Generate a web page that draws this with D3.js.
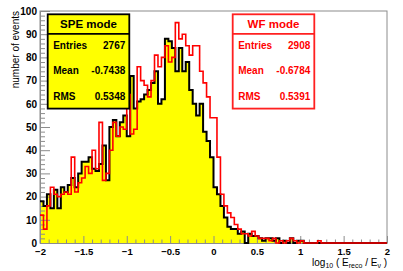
<!DOCTYPE html>
<html>
<head>
<meta charset="utf-8">
<script src="https://cdn.jsdelivr.net/npm/d3@7"></script>
<style>
    body { margin: 0; background: #fff; }
    svg text { font-family: "Liberation Sans", Arial, sans-serif; }
</style>
</head>
<body>
<div id="chart"></div>
<script>
//Datos: 100 bins entre -2 y 2
const spe = [18,16,21,15,23,15,24,22,25,28, 24,30,35,35,37,32,31,34,42,27,
    50,53,46,52,55,46,72,58,61,62, 64,66,69,74,60,62,88,87,84,74,
    84,74,78,66,60,55,60,48,44,37, 24,21,16,11,7,6,6,4,5,0,
    4,3,3,2,1,2,2,1,2,0, 1,0,2,0,1,1,0,0,0,0,
    0,0,0,0,0,0,0,0,0,0, 0,0,0,0,0,0,0,0,0,0];
const wf = [12,6,16,24,21,20,21,22,21,37, 22,26,28,33,30,40,32,52,27,30,
    40,52,46,50,49,64,47,49,76,70, 68,63,70,81,76,80,85,78,80,95,
    88,90,85,81,85,85,74,69,63,54, 54,37,21,16,13,11,8,6,4,4,
    3,5,3,2,2,2,1,2,0,1, 0,1,2,1,0,1,0,0,0,0,
    1,0,0,0,0,0,0,0,0,0, 0,0,0,0,0,0,0,0,0,0];
const xTicks = [-2, -1.5, -1, -0.5, 0, 0.5, 1, 1.5, 2];
const yTicks = [0, 10, 20, 30, 40, 50, 60, 70, 80, 90, 100];
const statNames = ['Entries', 'Mean', 'RMS'];
const speStats = ['2767', '-0.7438', '0.5348'];
const wfStats = ['2908', '-0.6784', '0.5391'];

const W = 403, H = 271;
const margin = {top: 11, right: 16, bottom: 28, left: 40};
const width = W - margin.left - margin.right,
    height = H - margin.top - margin.bottom;

let svg = d3.select('#chart').append('svg')
    .attr('width', W).attr('height', H);
let g = svg.append('g')
    .attr('transform', 'translate(' + margin.left + ',' + margin.top + ')');

let x = d3.scaleLinear().domain([-2, 2]).range([0, width]);
let y = d3.scaleLinear().domain([0, 100]).range([height, 0]);

let edges = d3.range(101).map(function(i) { return -2 + i * 0.04; });
function steps(vals) {
    let pts = vals.map(function(v, i) { return [edges[i], v]; });
    pts.push([edges[100], vals[vals.length - 1]]);
    return pts;
}

//Marco
g.append('rect')
    .attr('x', 0).attr('y', 0).attr('width', width).attr('height', height)
    .attr('fill', 'none').attr('stroke', '#8c8c8c').attr('stroke-width', 1);

//Relleno SPE
let area = d3.area().curve(d3.curveStepAfter)
    .x(function(d) { return x(d[0]); })
    .y0(y(0))
    .y1(function(d) { return y(d[1]); });
g.append('path').datum(steps(spe)).attr('d', area).attr('fill', '#ffff00');

//Ejes
let minorY = d3.range(0, 101, 2).filter(function(d) { return d % 10 != 0; });
let minorX = d3.range(-20, 21, 1).map(function(d) { return d / 10; })
    .filter(function(d) { return Math.abs(d * 2 - Math.round(d * 2)) > 1e-6; });

g.append('g').call(d3.axisLeft(y).tickValues(minorY).tickSize(-5).tickFormat(''))
    .call(function(a) { a.select('.domain').remove(); });
g.append('g').attr('transform', 'translate(0,' + height + ')')
    .call(d3.axisBottom(x).tickValues(minorX).tickSize(-3.5).tickFormat(''))
    .call(function(a) { a.select('.domain').remove(); });

g.append('g').attr('class', 'yaxis')
    .call(d3.axisLeft(y).tickValues(yTicks).tickSizeInner(-10).tickSizeOuter(0).tickPadding(3))
    .call(function(a) { a.select('.domain').attr('stroke', '#8c8c8c'); });
g.append('g').attr('class', 'xaxis').attr('transform', 'translate(0,' + height + ')')
    .call(d3.axisBottom(x).tickValues(xTicks).tickSizeInner(-7).tickSizeOuter(0).tickPadding(5)
        .tickFormat(function(d) { return d3.format('')(d); }))
    .call(function(a) { a.select('.domain').attr('stroke', '#8c8c8c'); });

g.selectAll('.tick line').attr('stroke', '#8c8c8c');
g.selectAll('.tick text').attr('fill', '#000').attr('font-size', '10px').attr('font-weight', 'bold')
    .style('font-family', '"Liberation Sans", Arial, sans-serif');
g.selectAll('.xaxis .tick text').attr('font-size', '9.5px');

//Lineas de los histogramas
let line = d3.line().curve(d3.curveStepAfter)
    .x(function(d) { return x(d[0]); })
    .y(function(d) { return y(d[1]); });
g.append('path').datum(steps(spe)).attr('d', line)
    .attr('fill', 'none').attr('stroke', '#000').attr('stroke-width', 2);
g.append('path').datum(steps(wf)).attr('d', line)
    .attr('fill', 'none').attr('stroke', '#ff0000').attr('stroke-width', 1.6);

//Titulos
svg.append('text')
    .attr('transform', 'translate(18.5,' + margin.top + ') rotate(-90)')
    .attr('text-anchor', 'end').attr('font-size', '10px')
    .text('number of events');

let xt = svg.append('text')
    .attr('x', margin.left + width).attr('y', 266)
    .attr('text-anchor', 'end').attr('font-size', '10px');
xt.append('tspan').text('log');
xt.append('tspan').attr('font-size', '7px').attr('dy', 2).text('10');
xt.append('tspan').attr('dy', -2).text(' ( E');
xt.append('tspan').attr('font-size', '7px').attr('dy', 2).text('reco');
xt.append('tspan').attr('dy', -2).text(' / E');
xt.append('tspan').attr('font-size', '7px').attr('dy', 2).text('ν');
xt.append('tspan').attr('dy', -2).text(' )');

//Cajas de estadisticas
function statBox(x0, title, vals, stroke, fill, color) {
    let bw = 81.6, bh = 94.3, y0 = 14.3;
    let box = svg.append('g').attr('transform', 'translate(' + x0 + ',' + y0 + ')');
    box.append('rect').attr('width', bw).attr('height', bh)
        .attr('fill', fill).attr('stroke', stroke).attr('stroke-width', 1.8);
    box.append('line').attr('x1', 0).attr('x2', bw).attr('y1', 19.5).attr('y2', 19.5)
        .attr('stroke', stroke).attr('stroke-width', 1.8);
    box.append('text').attr('x', bw / 2).attr('y', 14).attr('text-anchor', 'middle')
        .attr('font-size', '11.5px').attr('font-weight', 'bold').attr('fill', color).text(title);
    statNames.forEach(function(n, i) {
        let yy = 35 + i * 25.2;
        box.append('text').attr('x', 5.5).attr('y', yy).attr('font-size', '10px')
            .attr('font-weight', 'bold').attr('fill', color).text(n);
        box.append('text').attr('x', bw - 4).attr('y', yy).attr('text-anchor', 'end')
            .attr('font-size', '10px').attr('font-weight', 'bold').attr('fill', color).text(vals[i]);
    });
}
statBox(47.7, 'SPE mode', speStats, '#000', '#ffff00', '#000');
statBox(232.7, 'WF mode', wfStats, '#ff2020', '#fff', '#ff0000');
</script>
</body>
</html>
